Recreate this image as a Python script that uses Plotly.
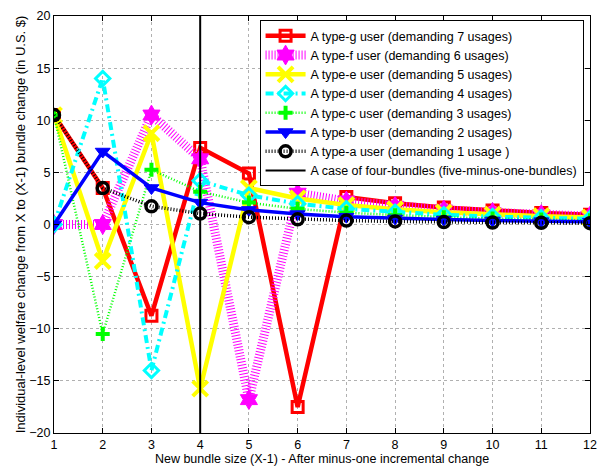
import plotly.graph_objects as go

# New bundle size (X-1)
bundle_size = [1, 2, 3, 4, 5, 6, 7, 8, 9, 10, 11, 12]

# Welfare change (U.S. $) per user type
type_g = [10.5, 3.5, -8.75, 7.35, 4.9, -17.5, 2.63, 2.04, 1.63, 1.34, 1.11, 0.94]
type_f = [0.0, 0.0, 10.5, 6.3, -16.8, 3.0, 2.25, 1.75, 1.4, 1.15, 0.95, 0.81]
type_e = [10.5, -3.5, 8.75, -15.75, 3.5, 2.5, 1.88, 1.46, 1.17, 0.95, 0.8, 0.67]
type_d = [0.0, 14.0, -14.0, 4.2, 2.8, 2.0, 1.5, 1.17, 0.93, 0.76, 0.64, 0.54]
type_c = [10.5, -10.5, 5.25, 3.15, 2.1, 1.5, 1.13, 0.88, 0.7, 0.57, 0.48, 0.4]
type_b = [0.0, 7.0, 3.5, 2.1, 1.4, 1.0, 0.75, 0.58, 0.47, 0.38, 0.32, 0.27]
type_a = [10.5, 3.5, 1.75, 1.05, 0.7, 0.5, 0.38, 0.29, 0.23, 0.19, 0.16, 0.13]

names = [
    "A type-g user (demanding 7 usages)",
    "A type-f user (demanding 6 usages)",
    "A type-e user (demanding 5 usages)",
    "A type-d user (demanding 4 usages)",
    "A type-c user (demanding 3 usages)",
    "A type-b user (demanding 2 usages)",
    "A type-a user (demanding 1 usage )",
]
reference_name = "A case of four-bundles (five-minus-one-bundles)"
reference_x = 4
y_range = [-20, 20]

styles = [
    dict(line=dict(color="#ff0000", width=4.5),
         marker=dict(symbol="square-open", size=11, color="#ff0000", line=dict(width=3, color="#ff0000"))),
    dict(line=dict(color="#ff00ff", width=9, dash="1px,2px"),
         marker=dict(symbol="hexagram", size=15, color="#ff00ff", line=dict(width=1, color="#ff00ff"))),
    dict(line=dict(color="#ffff00", width=4.5),
         marker=dict(symbol="x-thin", size=15, color="#ffff00", line=dict(width=4, color="#ffff00"))),
    dict(line=dict(color="#00ffff", width=4, dash="8px,4px,2px,4px"),
         marker=dict(symbol="diamond-open", size=11, color="#00ffff", line=dict(width=3, color="#00ffff"))),
    dict(line=dict(color="#00ff00", width=2.5, dash="1px,2px"),
         marker=dict(symbol="cross-thin", size=10, color="#00ff00", line=dict(width=4, color="#00ff00"))),
    dict(line=dict(color="#0000ff", width=3.5),
         marker=dict(symbol="triangle-down", size=13, color="#0000ff", line=dict(width=1, color="#0000ff"))),
    dict(line=dict(color="#000000", width=3.5, dash="1px,2px"),
         marker=dict(symbol="circle-open", size=11, color="#000000", line=dict(width=3.5, color="#000000"))),
]

series = [type_g, type_f, type_e, type_d, type_c, type_b, type_a]

fig = go.Figure()
for vals, name, st in zip(series, names, styles):
    fig.add_trace(go.Scatter(x=bundle_size, y=vals, mode="lines+markers", name=name,
                             line=st["line"], marker=st["marker"]))

fig.add_trace(go.Scatter(x=[reference_x, reference_x], y=y_range, mode="lines",
                         name=reference_name, line=dict(color="#000000", width=2)))

font_family = "Liberation Sans, Arial, sans-serif"

axis_common = dict(
    showline=True, linecolor="#000000", linewidth=1, mirror="ticks",
    ticks="inside", ticklen=5, tickcolor="#000000",
    showgrid=True, gridcolor="#b0b0b0", griddash="dot", gridwidth=1,
    zeroline=False,
    tickfont=dict(family=font_family, size=12.5, color="#000000"),
)

fig.update_layout(
    width=606, height=472,
    margin=dict(l=54, r=14, t=9, b=39),
    paper_bgcolor="#ffffff", plot_bgcolor="#ffffff",
    font=dict(family=font_family, size=12.5, color="#000000"),
    showlegend=True,
    legend=dict(
        x=0.988, y=0.99, xanchor="right", yanchor="top",
        bgcolor="#ffffff", bordercolor="#000000", borderwidth=1,
        font=dict(size=12.5), itemwidth=40, tracegroupgap=0,
    ),
    xaxis=dict(range=[1, 12], tickvals=bundle_size,
               title=dict(text="New bundle size (X-1) - After minus-one incremental change",
                          standoff=2, font=dict(size=12.5)),
               **axis_common),
    yaxis=dict(range=y_range, tickvals=list(range(-20, 21, 5)),
               title=dict(text="Individual-level welfare change from X to (X-1) bundle change (in U.S. $)",
                          standoff=0, font=dict(size=13)),
               **axis_common),
)

fig.write_html("out.html")
